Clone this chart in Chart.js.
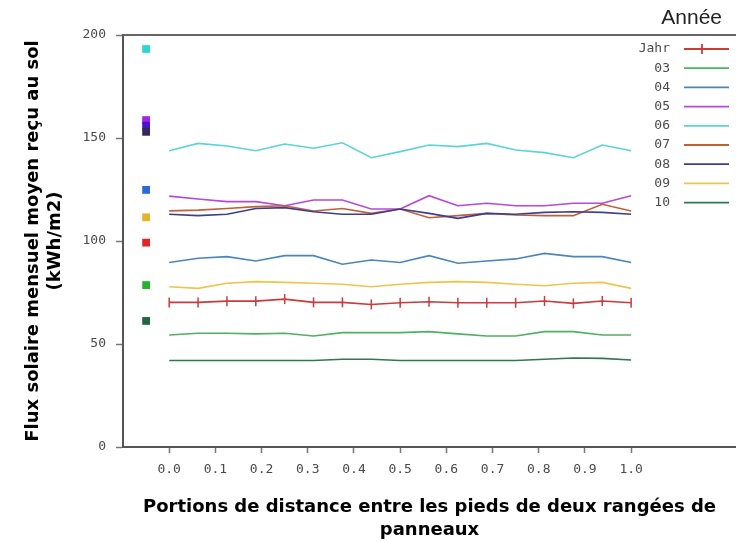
<!DOCTYPE html>
<html><head><meta charset="utf-8">
<script src="https://cdn.jsdelivr.net/npm/chart.js@4.4.1/dist/chart.umd.min.js"></script>
<style>html,body{margin:0;padding:0;background:#fff;overflow:hidden}</style>
</head><body>
<canvas id="c" width="736" height="542"></canvas>
<script>
// Positions along the distance (x values)
const positions = [0, 0.0625, 0.125, 0.1875, 0.25, 0.3125, 0.375, 0.4375, 0.5, 0.5625, 0.625, 0.6875, 0.75, 0.8125, 0.875, 0.9375, 1.0];
const xTickValues = [0, 0.1, 0.2, 0.3, 0.4, 0.5, 0.6, 0.7, 0.8, 0.9, 1.0];
const xTickLabels = ['0.0','0.1','0.2','0.3','0.4','0.5','0.6','0.7','0.8','0.9','1.0'];
const yTickValues = [0, 50, 100, 150, 200];

const seriesNames = ['Jahr','03','04','05','06','07','08','09','10'];
const jahr = [70.2, 70.2, 70.8, 70.8, 71.8, 70.2, 70.2, 69.2, 70, 70.5, 70, 70, 70, 70.9, 69.7, 70.9, 70];
const s03 = [54.4, 55.2, 55.2, 54.9, 55.2, 53.9, 55.5, 55.5, 55.5, 56, 54.9, 53.9, 53.9, 56, 56, 54.4, 54.4];
const s04 = [89.6, 91.6, 92.4, 90.3, 92.9, 92.9, 88.7, 90.8, 89.6, 92.9, 89.2, 90.3, 91.3, 94, 92.4, 92.4, 89.6];
const s05 = [121.8, 120.4, 119.1, 119.1, 117.1, 119.9, 119.9, 115.5, 115.5, 122, 117.1, 118.3, 117.1, 117.1, 118.3, 118.3, 122];
const s06 = [143.8, 147.4, 146.1, 143.8, 147.1, 145, 147.7, 140.4, 143.4, 146.6, 145.8, 147.4, 144.2, 142.9, 140.4, 146.6, 143.8];
const s07 = [114.6, 115, 115.8, 116.7, 117.1, 114.6, 115.8, 113.4, 115.5, 111.3, 112.3, 113.4, 112.6, 112.3, 112.3, 117.8, 114.6];
const s08 = [113, 112.3, 113, 115.8, 116.2, 114.2, 113, 113, 115.5, 113.4, 111, 113.4, 113, 113.9, 114.2, 113.9, 113];
const s09 = [77.8, 77, 79.5, 80.3, 79.9, 79.5, 79, 77.8, 79, 79.9, 80.3, 79.9, 79, 78.3, 79.5, 79.9, 77];
const s10 = [42, 42, 42, 42, 42, 42, 42.6, 42.6, 42, 42, 42, 42, 42, 42.6, 43.2, 43, 42.2];

// Separate square markers at the left of the plot
const markerX = -0.05;
const markerValues = [193.2, 158.7, 156, 153, 124.8, 111.5, 99.2, 78.6, 61.2];

// Styles
const seriesColors = ['#cc3a3a','#4cb260','#4a86bc','#b848d8','#5cd4d4','#c0603a','#3e3e8c','#f0c44a','#2e7a4e'];
const markerColors = ['#2cd6d6','#a424e4','#4a14c8','#36285e','#2a6ad4','#e2b42a','#e02626','#26b42c','#22663e'];

const allSeries = [jahr, s03, s04, s05, s06, s07, s08, s09, s10];
const datasets = allSeries.map((vals, i) => ({
  label: seriesNames[i],
  data: positions.map((x, j) => ({x: x, y: vals[j]})),
  borderColor: seriesColors[i],
  backgroundColor: seriesColors[i],
  borderWidth: 1.6,
  tension: 0,
  fill: false,
  pointRadius: i === 0 ? 5 : 0,
  pointStyle: 'line',
  rotation: 90,
  pointBorderWidth: 1.5,
  order: 10 - i
}));
datasets.push({
  label: 'markers',
  type: 'scatter',
  data: markerValues.map(v => ({x: markerX, y: v})),
  pointStyle: 'rect',
  pointRadius: 5.5,
  pointBorderWidth: 0,
  pointBackgroundColor: markerColors,
  pointBorderColor: markerColors,
  showLine: false
});

const tickFont = {family: "'DejaVu Sans Mono', monospace", size: 13};

const framePlugin = {
  id: 'frame',
  afterDraw(chart) {
    const {ctx, chartArea} = chart;
    ctx.save();
    ctx.strokeStyle = '#666';
    ctx.lineWidth = 2;
    ctx.beginPath();
    ctx.moveTo(chartArea.left, chartArea.top);
    ctx.lineTo(chart.width, chartArea.top);
    ctx.stroke();
    // legend
    ctx.fillStyle = '#222';
    ctx.font = "21px 'Liberation Sans', Arial, sans-serif";
    ctx.textAlign = 'right';
    ctx.textBaseline = 'middle';
    ctx.fillText('Année', 722, 18);
    ctx.font = "13px 'DejaVu Sans Mono', monospace";
    ctx.fillStyle = '#4a4a4a';
    seriesNames.forEach((name, i) => {
      const y = 49 + i * 19.2;
      ctx.fillText(name, 670, y);
      ctx.strokeStyle = seriesColors[i];
      ctx.lineWidth = 1.8;
      ctx.beginPath();
      ctx.moveTo(684, y);
      ctx.lineTo(729, y);
      ctx.stroke();
      if (i === 0) {
        ctx.beginPath();
        ctx.moveTo(702, y - 5);
        ctx.lineTo(702, y + 5);
        ctx.stroke();
      }
    });
    ctx.restore();
  }
};

new Chart(document.getElementById('c'), {
  type: 'line',
  data: {datasets},
  plugins: [framePlugin],
  options: {
    responsive: false,
    animation: false,
    events: [],
    layout: {autoPadding: false, padding: {top: 35, right: 0, left: 0, bottom: 0}},
    plugins: {legend: {display: false}, tooltip: {enabled: false}},
    scales: {
      x: {
        type: 'linear',
        min: -0.1,
        max: 1.227,
        afterBuildTicks: s => { s.ticks = xTickValues.map(v => ({value: v})); },
        afterFit: s => { s.height = 95; s.paddingRight = 0; s.paddingLeft = 0; },
        ticks: {
          callback: (v, i) => xTickLabels[i],
          font: tickFont, color: '#4a4a4a', padding: 9, maxRotation: 0, autoSkip: false
        },
        grid: {display: true, drawOnChartArea: false, drawTicks: true, tickLength: 6, tickColor: '#777', tickWidth: 1.5},
        border: {display: true, color: '#555', width: 2},
        title: {
          display: true,
          text: ['Portions de distance entre les pieds de deux rangées de', 'panneaux'],
          font: {family: "'DejaVu Sans', sans-serif", weight: 'bold', size: 18, lineHeight: 1.3},
          color: '#000',
          padding: {top: 0, bottom: 0}
        }
      },
      y: {
        min: 0,
        max: 200,
        afterBuildTicks: s => { s.ticks = yTickValues.map(v => ({value: v})); },
        afterFit: s => { s.width = 123; s.paddingTop = 0; s.paddingBottom = 0; },
        ticks: {font: tickFont, color: '#4a4a4a', padding: 10},
        grid: {display: true, drawOnChartArea: false, drawTicks: true, tickLength: 7, tickColor: '#777', tickWidth: 1.5},
        border: {display: true, color: '#555', width: 2},
        title: {
          display: true,
          text: ['Flux solaire mensuel moyen reçu au sol', '(kWh/m2)'],
          font: {family: "'DejaVu Sans', sans-serif", weight: 'bold', size: 18, lineHeight: 1.25},
          color: '#000',
          padding: {top: 22, bottom: 0}
        }
      }
    }
  }
});
</script>
</body></html>
